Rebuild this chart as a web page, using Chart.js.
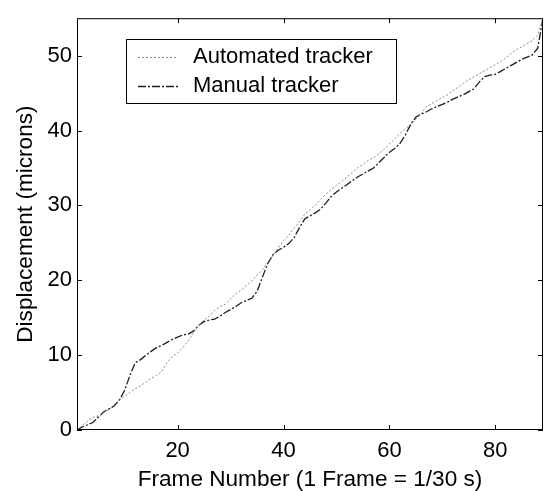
<!DOCTYPE html>
<html>
<head>
<meta charset="utf-8">
<script src="https://cdn.jsdelivr.net/npm/chart.js@4.4.0/dist/chart.umd.min.js"></script>
<style>
  html, body { margin: 0; padding: 0; background: #fff; }
</style>
</head>
<body>
<canvas id="trackChart" width="544" height="491"></canvas>
<script>
// Frame numbers (1 frame = 1/30 s)
const frames = Array.from({ length: 89 }, (_, i) => i + 1);

// Displacement in microns
const automated = [
  0, 0.6, 1.2, 1.7, 1.9, 2.3, 2.7, 3.3, 4.0, 4.5,
  5.0, 5.5, 5.9, 6.4, 6.9, 7.3, 7.8, 9.0, 9.8, 10.3,
  11.0, 11.9, 13.0, 14.0, 14.7, 15.2, 16.0, 16.5, 16.8, 17.5,
  18.2, 18.7, 19.3, 19.9, 20.7, 21.4, 22.4, 23.3, 24.3, 25.3,
  26.0, 27.0, 27.8, 28.8, 29.4, 30.0, 30.8, 31.5, 32.1, 32.7,
  33.2, 33.8, 34.4, 35.0, 35.5, 36.0, 36.4, 36.9, 37.5, 38.2,
  38.9, 39.6, 40.2, 40.8, 41.5, 42.3, 43.2, 43.6, 44.0, 44.4,
  44.8, 45.3, 45.8, 46.3, 46.8, 47.2, 47.6, 48.0, 48.4, 48.8,
  49.2, 49.7, 50.3, 50.8, 51.2, 51.6, 52.0, 52.7, 55.0
];
const manual = [
  0, 0.4, 0.7, 1.0, 1.7, 2.4, 2.8, 3.2, 4.0, 5.3,
  7.3, 9.0, 9.4, 10.0, 10.5, 11.0, 11.3, 11.7, 12.1, 12.4,
  12.7, 12.8, 13.2, 14.0, 14.5, 14.7, 14.8, 15.2, 15.7, 16.1,
  16.5, 17.0, 17.3, 17.6, 18.5, 20.4, 22.2, 23.4, 24.0, 24.4,
  24.9, 25.7, 27.0, 28.2, 28.6, 29.0, 29.5, 30.3, 31.2, 31.8,
  32.3, 32.8, 33.3, 33.8, 34.2, 34.6, 35.0, 35.7, 36.4, 37.1,
  37.6, 38.3, 39.4, 40.8, 41.8, 42.2, 42.5, 42.9, 43.2, 43.5,
  43.8, 44.2, 44.5, 44.8, 45.2, 45.6, 46.5, 47.2, 47.4, 47.5,
  47.9, 48.3, 48.7, 49.1, 49.5, 49.8, 50.1, 51.0, 55.0
];

const seriesLabels = ['Automated tracker', 'Manual tracker'];
const xTicks = [20, 40, 60, 80];
const yTicks = [0, 10, 20, 30, 40, 50];

const FONT = 'Liberation Sans, Arial, Helvetica, sans-serif';
const autoStyle = { color: '#8a8a8a', width: 1, dash: [2, 2] };
const manualStyle = { color: '#1e1e1e', width: 1.3, dash: [8, 2, 2, 2] };

// box round the plot with inward ticks, like the original figure
const framePlugin = {
  id: 'frameBox',
  afterDraw(chart) {
    const { ctx, chartArea: a, scales } = chart;
    ctx.save();
    ctx.strokeStyle = '#000';
    ctx.lineWidth = 1;
    ctx.strokeRect(a.left + 0.5, a.top + 0.5, a.right - a.left - 1, a.bottom - a.top - 1);
    ctx.beginPath();
    xTicks.forEach(v => {
      const px = Math.round(scales.x.getPixelForValue(v)) + 0.5;
      ctx.moveTo(px, a.bottom); ctx.lineTo(px, a.bottom - 5);
      ctx.moveTo(px, a.top); ctx.lineTo(px, a.top + 5);
    });
    yTicks.forEach(v => {
      const py = Math.round(scales.y.getPixelForValue(v)) + 0.5;
      ctx.moveTo(a.left, py); ctx.lineTo(a.left + 5, py);
      ctx.moveTo(a.right, py); ctx.lineTo(a.right - 5, py);
    });
    ctx.stroke();

    // legend box
    const bx = 126, by = 39, bw = 270, bh = 64;
    ctx.fillStyle = '#fff';
    ctx.fillRect(bx, by, bw, bh);
    ctx.strokeRect(bx + 0.5, by + 0.5, bw, bh);
    [autoStyle, manualStyle].forEach((s, i) => {
      const ly = i === 0 ? 57 : 86;
      ctx.beginPath();
      ctx.strokeStyle = s.color;
      ctx.lineWidth = s.width;
      ctx.setLineDash(s.dash);
      ctx.moveTo(138, ly + 0.5);
      ctx.lineTo(178, ly + 0.5);
      ctx.stroke();
      ctx.setLineDash([]);
      ctx.fillStyle = '#000';
      ctx.font = '22px ' + FONT;
      ctx.textBaseline = 'middle';
      ctx.fillText(seriesLabels[i], 193, ly);
    });
    ctx.restore();
  }
};

new Chart(document.getElementById('trackChart'), {
  type: 'line',
  data: {
    datasets: [
      {
        label: seriesLabels[0],
        data: frames.map((f, i) => ({ x: f, y: automated[i] })),
        borderColor: autoStyle.color,
        borderWidth: autoStyle.width,
        borderDash: autoStyle.dash,
        pointRadius: 0,
        tension: 0
      },
      {
        label: seriesLabels[1],
        data: frames.map((f, i) => ({ x: f, y: manual[i] })),
        borderColor: manualStyle.color,
        borderWidth: manualStyle.width,
        borderDash: manualStyle.dash,
        pointRadius: 0,
        tension: 0
      }
    ]
  },
  options: {
    responsive: false,
    animation: false,
    devicePixelRatio: 1,
    layout: { padding: { top: 7, right: 1, left: 0, bottom: 0 } },
    scales: {
      x: {
        type: 'linear',
        min: 1,
        max: 89,
        afterBuildTicks: s => { s.ticks = xTicks.map(v => ({ value: v })); },
        afterFit: s => { s.height = 61; },
        grid: { display: false, drawTicks: false },
        border: { display: false },
        ticks: { autoSkip: false, padding: 8, color: '#000', font: { family: FONT, size: 22 } },
        title: {
          display: true,
          text: 'Frame Number (1 Frame = 1/30 s)',
          color: '#000',
          font: { family: FONT, size: 22.6, lineHeight: 1 },
          padding: { top: 0, bottom: 0 }
        }
      },
      y: {
        min: 0,
        max: 55,
        afterBuildTicks: s => { s.ticks = yTicks.map(v => ({ value: v })); },
        afterFit: s => { s.width = 77; },
        grid: { display: false, drawTicks: false },
        border: { display: false },
        ticks: { autoSkip: false, padding: 5, color: '#000', font: { family: FONT, size: 22 } },
        title: {
          display: true,
          text: 'Displacement (microns)',
          color: '#000',
          font: { family: FONT, size: 22.6 },
          padding: { top: 12.5, bottom: 0 }
        }
      }
    },
    plugins: {
      legend: { display: false },
      tooltip: { enabled: false }
    }
  },
  plugins: [framePlugin]
});
</script>
</body>
</html>
